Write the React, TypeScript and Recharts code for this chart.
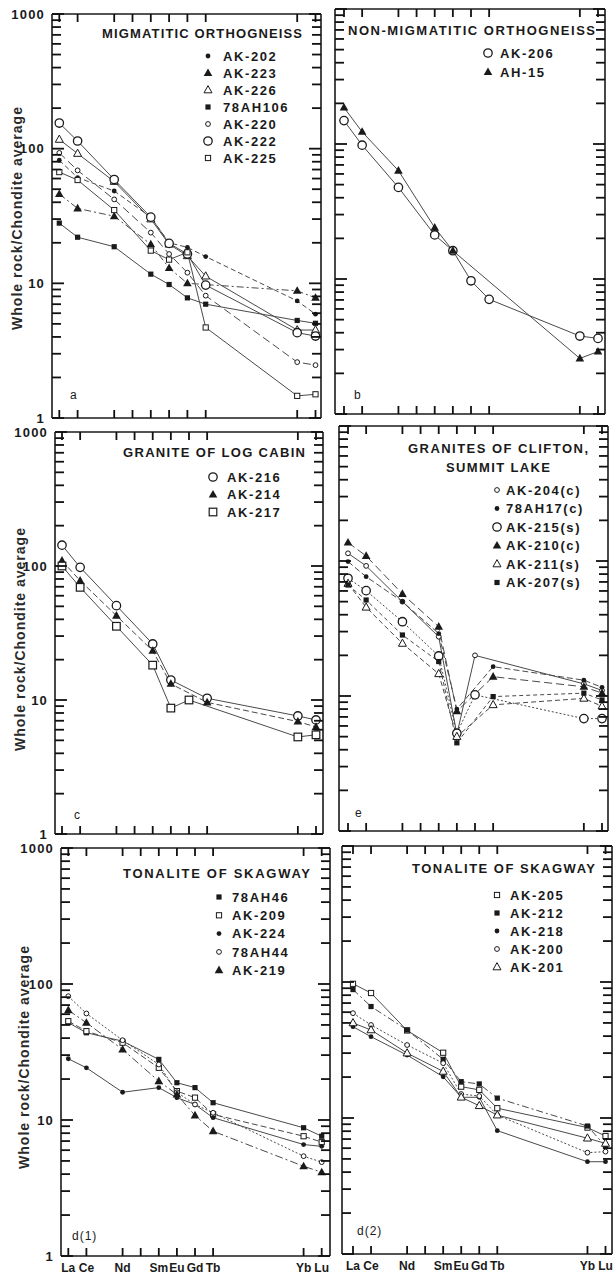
import React from 'react'
import { LineChart, Line, XAxis, YAxis, ReferenceLine } from 'recharts'

// REE order used on the x axis (atomic numbers)
const ELEMENTS = ['La', 'Ce', 'Nd', 'Sm', 'Eu', 'Gd', 'Tb', 'Yb', 'Lu']
const ATOMIC_NO = [57, 58, 60, 62, 63, 64, 65, 70, 71]
const X_TICKS = [57, 58, 60, 61, 62, 63, 64, 65, 70, 71]
const Y_TICKS = [
  1, 2, 3, 4, 5, 6, 7, 8, 9,
  10, 20, 30, 40, 50, 60, 70, 80, 90,
  100, 200, 300, 400, 500, 600, 700, 800, 900, 1000,
]
const Y_LABELS = [1, 10, 100, 1000]

// a: migmatitic orthogneiss
const AK202 = [82, 61, 48.5, 31, 20, 18.5, 15.8, 7.4, 5.9]
const AK223 = [46, 36, 31.5, 19.5, 13, 10, null, 8.8, 7.8]
const AK226 = [117, 92, 57, 30, 19.5, 16, 11.3, 4.5, 4.5]
const AH106 = [28, 22, 18.7, 11.7, 9.8, 7.8, 7.0, 5.3, 5.05]
const AK220 = [93, 69, 42, 23.8, 16.5, 12, 8.1, 2.6, 2.47]
const AK222 = [155, 114, 59, 31, 19.8, 16.5, 9.7, 4.3, 4.06]
const AK225 = [67, 58.5, 35, 17.5, 15, 17, 4.7, 1.46, 1.5]

// b: non-migmatitic orthogneiss
const AK206 = [149, 98, 47.7, 21.2, 16.2, 9.7, 7.07, 3.78, 3.63]
const AH15 = [186, 123, 63.5, 24, 16.2, null, null, 2.58, 2.9]

// c: granite of Log Cabin
const AK216 = [143, 97.7, 50.6, 26.2, 14.1, null, 10.3, 7.6, 7.1]
const AK214 = [109.6, 77.7, 42.6, 23.3, 13.2, null, 9.6, 6.9, 6.3]
const AK217 = [100, 69.3, 35.5, 18.2, 8.7, 10, null, 5.3, 5.5]

// e: granites of Clifton, Summit Lake
const AK204 = [114, 92, 50, 27.5, 5.2, 20, null, 12.3, 11]
const AH17 = [99, 76.5, 50, 29, 8.0, null, 16.5, 13.1, 11.6]
const AK215 = [74.5, 60.3, 35.5, 19.8, 5.3, 10.2, null, 6.8, 6.8]
const AK210 = [137, 109, 57, 32.6, 7.7, null, 13.9, 11.7, 10.5]
const AK211 = [68, 45.4, 24.5, 14.6, 5.0, null, 8.6, 9.6, 8.4]
const AK207 = [66.4, 51.4, 28.3, 18, 4.5, null, 9.9, 10.5, 9.35]

// d(1): tonalite of Skagway
const AH46 = [52, 43.8, 38, 27.9, 18.8, 17.3, 13.4, 8.77, 7.6]
const AK209 = [53.3, 45, 37, 24.2, 16.3, 14.6, 11, 7.6, 6.87]
const AK224 = [28.2, 24.2, 16, 17.3, 14.6, 13, 10.4, 6.6, 6.4]
const AH44 = [81.3, 60.7, 38.6, 25.6, 16, 13, 11.3, 5.42, 4.9]
const AK219 = [64.2, 51.9, 33, 19.3, 15.4, 10.8, 8.27, 4.57, 4.13]

// d(2): tonalite of Skagway
const AK205 = [97, 83, 44, 30.2, 17, 16.1, 11.8, 8.5, 7.37]
const AK212 = [88, 66, 44.4, 27, 18.5, 17.8, 14, 8.73, 6.2]
const AK218 = [46.9, 39.6, 29, 20.1, 14.2, 14.2, 8.07, 4.77, 4.77]
const AK200 = [59, 48.3, 34.4, 25.3, 15, 14.5, 10.5, 5.56, 5.66]
const AK201 = [50, 44.4, 30, 22, 14.2, 12.3, 10.5, 7.1, 6.5]

const INK = '#1a1a1a'
const LINE = '#4a4a4a'
const FONT = '"Liberation Sans", Arial, Helvetica, sans-serif'

type Sym = 'dot' | 'circle' | 'bigCircle' | 'tri' | 'openTri' | 'square' | 'openSquare' | 'bigSquare'

interface Series {
  name: string
  values: (number | null)[]
  sym: Sym
  dash?: string
}

interface PanelCfg {
  left: number
  right: number
  top: number
  bottom: number
  laX: number
  luX: number
  leftLabels: boolean
  bottomLabels: boolean
  series: Series[]
  titles: { text: string; x: number; y: number; w: number }[]
  legend: { sx: number; tx: number; y0: number; dy: number }
  letter: { text: string; x: number; y: number }
  yTitle?: { x: number; y: number }
}

const PANELS: PanelCfg[] = [
  {
    left: 52, right: 321, top: 14, bottom: 418, laX: 59.3, luX: 315.5,
    leftLabels: true, bottomLabels: false,
    series: [
      { name: 'AK-202', values: AK202, sym: 'dot', dash: '5 3' },
      { name: 'AK-223', values: AK223, sym: 'tri', dash: '7 3 2 3' },
      { name: 'AK-226', values: AK226, sym: 'openTri' },
      { name: '78AH106', values: AH106, sym: 'square' },
      { name: 'AK-220', values: AK220, sym: 'circle', dash: '8 4' },
      { name: 'AK-222', values: AK222, sym: 'bigCircle' },
      { name: 'AK-225', values: AK225, sym: 'openSquare' },
    ],
    titles: [{ text: 'MIGMATITIC ORTHOGNEISS', x: 102, y: 38, w: 200 }],
    legend: { sx: 208, tx: 223, y0: 56, dy: 17 },
    letter: { text: 'a', x: 70, y: 399 },
    yTitle: { x: 17, y: 218 },
  },
  {
    left: 335, right: 605, top: 9, bottom: 414, laX: 344, luX: 598,
    leftLabels: false, bottomLabels: false,
    series: [
      { name: 'AK-206', values: AK206, sym: 'bigCircle' },
      { name: 'AH-15', values: AH15, sym: 'tri' },
    ],
    titles: [{ text: 'NON-MIGMATITIC ORTHOGNEISS', x: 348, y: 35, w: 247 }],
    legend: { sx: 488, tx: 500, y0: 53, dy: 19 },
    letter: { text: 'b', x: 354, y: 399 },
  },
  {
    left: 55, right: 323, top: 432, bottom: 834, laX: 62, luX: 316,
    leftLabels: true, bottomLabels: false,
    series: [
      { name: 'AK-216', values: AK216, sym: 'bigCircle' },
      { name: 'AK-214', values: AK214, sym: 'tri', dash: '6 3' },
      { name: 'AK-217', values: AK217, sym: 'bigSquare' },
    ],
    titles: [{ text: 'GRANITE OF LOG CABIN', x: 123, y: 457, w: 182 }],
    legend: { sx: 213, tx: 227, y0: 477, dy: 17.5 },
    letter: { text: 'c', x: 74, y: 819 },
    yTitle: { x: 20, y: 639 },
  },
  {
    left: 339, right: 608, top: 426, bottom: 831, laX: 348, luX: 602,
    leftLabels: false, bottomLabels: false,
    series: [
      { name: 'AK-204(c)', values: AK204, sym: 'circle' },
      { name: '78AH17(c)', values: AH17, sym: 'dot', dash: '6 3' },
      { name: 'AK-215(s)', values: AK215, sym: 'bigCircle', dash: '2 2' },
      { name: 'AK-210(c)', values: AK210, sym: 'tri', dash: '8 4' },
      { name: 'AK-211(s)', values: AK211, sym: 'openTri', dash: '5 3' },
      { name: 'AK-207(s)', values: AK207, sym: 'square', dash: '4 3' },
    ],
    titles: [
      { text: 'GRANITES OF CLIFTON,', x: 408, y: 453, w: 180 },
      { text: 'SUMMIT LAKE', x: 446, y: 472, w: 104 },
    ],
    legend: { sx: 497, tx: 506, y0: 490, dy: 18.5 },
    letter: { text: 'e', x: 355, y: 817 },
  },
  {
    left: 61, right: 330, top: 848, bottom: 1256, laX: 68.3, luX: 321.7,
    leftLabels: true, bottomLabels: true,
    series: [
      { name: '78AH46', values: AH46, sym: 'square' },
      { name: 'AK-209', values: AK209, sym: 'openSquare', dash: '6 3' },
      { name: 'AK-224', values: AK224, sym: 'dot' },
      { name: '78AH44', values: AH44, sym: 'circle', dash: '2 2' },
      { name: 'AK-219', values: AK219, sym: 'tri', dash: '8 3 2 3' },
    ],
    titles: [{ text: 'TONALITE OF SKAGWAY', x: 123, y: 878, w: 187 }],
    legend: { sx: 219, tx: 232, y0: 897, dy: 18.3 },
    letter: { text: 'd(1)', x: 72, y: 1240 },
    yTitle: { x: 24, y: 1057 },
  },
  {
    left: 342, right: 612, top: 846, bottom: 1254, laX: 353, luX: 605.5,
    leftLabels: false, bottomLabels: true,
    series: [
      { name: 'AK-205', values: AK205, sym: 'openSquare' },
      { name: 'AK-212', values: AK212, sym: 'square', dash: '7 3 2 3' },
      { name: 'AK-218', values: AK218, sym: 'dot' },
      { name: 'AK-200', values: AK200, sym: 'circle', dash: '2 2' },
      { name: 'AK-201', values: AK201, sym: 'openTri' },
    ],
    titles: [{ text: 'TONALITE OF SKAGWAY', x: 412, y: 873, w: 183 }],
    legend: { sx: 497, tx: 510, y0: 895, dy: 18 },
    letter: { text: 'd(2)', x: 357, y: 1235 },
  },
]

function Marker({ x, y, sym }: { x: number; y: number; sym: Sym }) {
  switch (sym) {
    case 'dot':
      return <circle cx={x} cy={y} r={2.4} fill={INK} />
    case 'circle':
      return <circle cx={x} cy={y} r={2.4} fill="#fff" stroke={INK} strokeWidth={1} />
    case 'bigCircle':
      return <circle cx={x} cy={y} r={4.2} fill="#fff" stroke={INK} strokeWidth={1.3} />
    case 'tri':
      return <path d={`M${x},${y - 4.6}L${x + 4.3},${y + 3}L${x - 4.3},${y + 3}Z`} fill={INK} />
    case 'openTri':
      return <path d={`M${x},${y - 4.4}L${x + 4},${y + 2.8}L${x - 4},${y + 2.8}Z`} fill="#fff" stroke={INK} strokeWidth={1} />
    case 'square':
      return <rect x={x - 2.6} y={y - 2.6} width={5.2} height={5.2} fill={INK} />
    case 'openSquare':
      return <rect x={x - 2.6} y={y - 2.6} width={5.2} height={5.2} fill="#fff" stroke={INK} strokeWidth={1} />
    case 'bigSquare':
      return <rect x={x - 3.8} y={y - 3.8} width={7.6} height={7.6} fill="#fff" stroke={INK} strokeWidth={1.2} />
  }
  return null
}

// tick label plus a filled inward tick bar (left/bottom), mirrored on the right/top frame
function YTick(props: any) {
  const x = Number(props.x)
  const y = Number(props.y)
  const v = props.payload.value
  const major = Y_LABELS.includes(v)
  const len = major ? 12 : 9
  const pw = props.pw
  return (
    <g>
      <rect x={x} y={y - 0.9} width={len} height={1.8} fill="#111" />
      <rect x={x + pw - len} y={y - 0.9} width={len} height={1.8} fill="#111" />
      {props.showLabel && major && (
        <text x={x - 7} y={y + 4.5} textAnchor="end" fontSize={13} fontWeight="bold"
          letterSpacing={1.2} fill={INK} fontFamily={FONT}>
          {v}
        </text>
      )}
    </g>
  )
}

function XTick(props: any) {
  const x = Number(props.x)
  const y = Number(props.y)
  const ph = props.ph
  const idx = ATOMIC_NO.indexOf(props.payload.value)
  return (
    <g>
      <rect x={x - 0.9} y={y - 8} width={1.8} height={8} fill="#111" />
      <rect x={x - 0.9} y={y - ph} width={1.8} height={8} fill="#111" />
      {props.showLabel && idx >= 0 && (
        <text x={x} y={y + 16} textAnchor="middle" fontSize={12} fontWeight="bold" fill={INK}
          fontFamily={FONT}>
          {ELEMENTS[idx]}
        </text>
      )}
    </g>
  )
}

// axes get a 1px band (a 0px axis is not drawn), margins are reduced to match
const AX = 1

function Panel({ p }: { p: PanelCfg }) {
  const sp = (p.luX - p.laX) / 14
  const x0 = 57 - (p.laX - p.left) / sp
  const x1 = 71 + (p.right - p.luX) / sp
  const ml = p.leftLabels ? p.left : 10
  const mt = 8
  const mr = 8
  const mb = p.bottomLabels ? 22 : 8
  const pw = p.right - p.left
  const ph = p.bottom - p.top
  const w = pw + ml + mr
  const h = ph + mt + mb

  const data = ATOMIC_NO.map((z, i) => {
    const row: Record<string, number | null> = { z }
    p.series.forEach(s => { row[s.name] = s.values[i] })
    return row
  })

  const axisLine = { stroke: INK, strokeWidth: 1.6 }

  return (
    <div style={{ position: 'absolute', left: p.left - ml, top: p.top - mt }}>
      <LineChart width={w} height={h} data={data}
        margin={{ top: mt, right: mr, bottom: mb - AX, left: ml - AX }}>
        <ReferenceLine y={1000} stroke={INK} strokeWidth={1.6} ifOverflow="visible" />
        <ReferenceLine x={x1} stroke={INK} strokeWidth={1.6} ifOverflow="visible" />
        {p.series.map(s => (
          <Line key={s.name} dataKey={s.name} type="linear" stroke={LINE} strokeWidth={1}
            strokeDasharray={s.dash} connectNulls isAnimationActive={false}
            dot={(d: any) => {
              const k = `${s.name}-${d.index}`
              if (d.cx == null || d.cy == null || d.value == null) return <g key={k} />
              return <g key={k}><Marker x={d.cx} y={d.cy} sym={s.sym} /></g>
            }}
            activeDot={false} />
        ))}
        <XAxis dataKey="z" type="number" domain={[x0, x1]} allowDataOverflow ticks={X_TICKS} interval={0}
          height={AX} tickSize={0} tickMargin={0} axisLine={axisLine} tickLine={false}
          tick={(t: any) => <XTick {...t} ph={ph} showLabel={p.bottomLabels} />} />
        <YAxis scale="log" type="number" domain={[1, 1000]} allowDataOverflow ticks={Y_TICKS} interval={0}
          width={AX} tickSize={0} tickMargin={0} axisLine={axisLine} tickLine={false}
          tick={(t: any) => <YTick {...t} pw={pw} showLabel={p.leftLabels} />} />
      </LineChart>
    </div>
  )
}

function Annotations() {
  return (
    <svg width={616} height={1274} style={{ position: 'absolute', left: 0, top: 0, pointerEvents: 'none' }}
      fontFamily={FONT}>
      {PANELS.map((p, pi) => (
        <g key={pi}>
          {p.titles.map(t => (
            <text key={t.text} x={t.x} y={t.y} textLength={t.w} lengthAdjust="spacing"
              fontSize={13} fontWeight="bold" fill={INK}>{t.text}</text>
          ))}
          {p.series.map((s, i) => {
            const cy = p.legend.y0 + i * p.legend.dy
            return (
              <g key={s.name}>
                <Marker x={p.legend.sx} y={cy} sym={s.sym} />
                <text x={p.legend.tx} y={cy + 4.6} fontSize={13} fontWeight="bold" letterSpacing={1.6}
                  fill={INK}>{s.name}</text>
              </g>
            )
          })}
          <text x={p.letter.x} y={p.letter.y} fontSize={12} fill={INK} letterSpacing={1}>{p.letter.text}</text>
          {p.yTitle && (
            <text transform={`translate(${p.yTitle.x},${p.yTitle.y}) rotate(-90)`} textAnchor="middle"
              dominantBaseline="central" fontSize={14} fontWeight="bold" letterSpacing={1} fill="#2a2a2a">
              Whole rock/Chondite average
            </text>
          )}
        </g>
      ))}
    </svg>
  )
}

export default function App() {
  return (
    <div style={{ position: 'absolute', left: 0, top: 0, width: 616, height: 1274, background: '#fff', fontFamily: FONT }}>
      {PANELS.map((p, i) => <Panel key={i} p={p} />)}
      <Annotations />
    </div>
  )
}
